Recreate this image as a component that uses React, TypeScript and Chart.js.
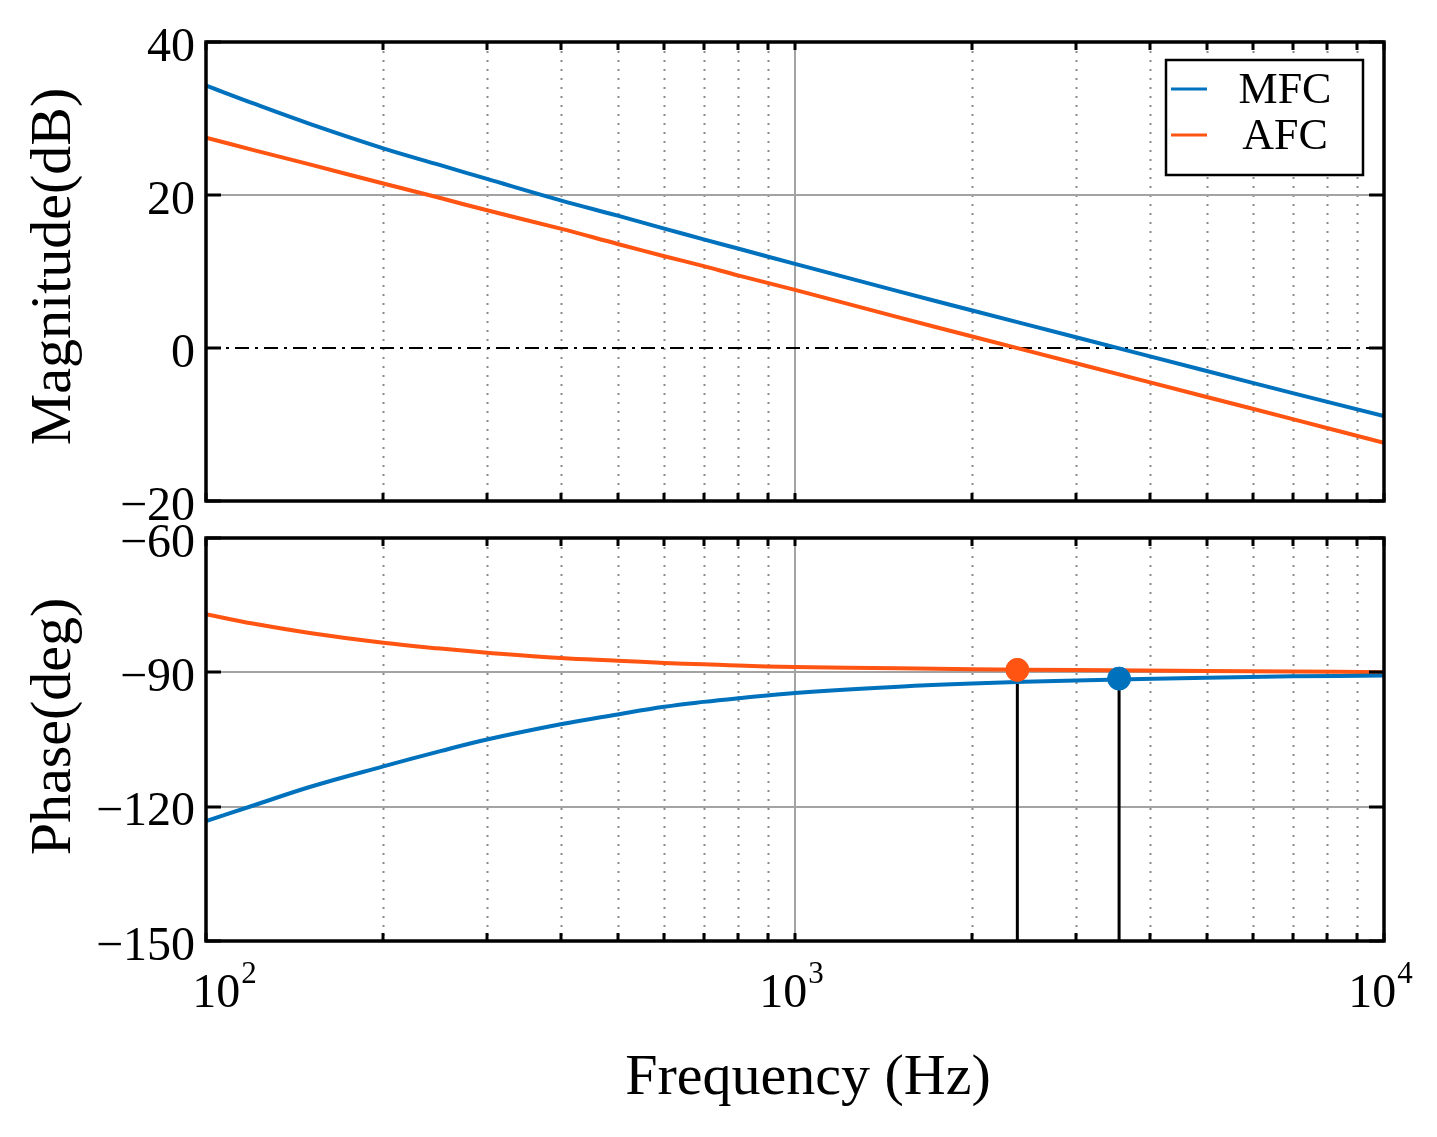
import { useEffect, useRef } from "react"
import { Chart, registerables } from "chart.js"

Chart.register(...registerables)

// frequency grid the curves were read at (Hz)
const freqHz = [100, 120, 150, 200, 250, 300, 400, 500, 600, 700, 800, 1000, 1500, 2000, 3000, 5000, 7000, 10000]
const mfcMagDb = [34.3, 32.0, 29.3, 26.1, 23.9, 22.1, 19.3, 17.3, 15.6, 14.2, 13.0, 11.0, 7.4, 4.9, 1.4, -3.0, -5.9, -8.9]
const afcMagDb = [27.5, 25.9, 24.0, 21.5, 19.6, 18.0, 15.6, 13.6, 12.0, 10.7, 9.5, 7.6, 4.0, 1.5, -2.0, -6.4, -9.3, -12.4]
const mfcPhaseDeg = [-123.2, -119.8, -115.6, -111.0, -107.6, -105.0, -101.6, -99.4, -97.7, -96.6, -95.8, -94.6, -93.2, -92.5, -91.8, -91.2, -90.9, -90.7]
const afcPhaseDeg = [-77.0, -79.1, -81.2, -83.4, -84.7, -85.6, -86.8, -87.4, -87.9, -88.2, -88.5, -88.8, -89.1, -89.3, -89.5, -89.7, -89.8, -90.0]

// crossover frequencies and the phase there: [MFC, AFC]
const crossFreqHz = [3550, 2385]
const crossPhaseDeg = [-91.4, -89.45]

const seriesNames = ["MFC", "AFC"]
const seriesColors = ["#0072BD", "#FF5412"]

const magTicks = [-20, 0, 20, 40]
const phaseTicks = [-150, -120, -90, -60]
const decadeTicks = [100, 1000, 10000]
const decadeExponents = ["2", "3", "4"]
const minorFreqs = [200, 300, 400, 500, 600, 700, 800, 900, 2000, 3000, 4000, 5000, 6000, 7000, 8000, 9000]

const FONT = "'Liberation Serif', 'Times New Roman', serif"
const W = 1437

const minus = (v: number) => String(v).replace("-", "\u2212")

// grid, zero line, frame, inward ticks, legend and axis texts
const framePlugin = {
  id: "bodeFrame",
  beforeDatasetsDraw(chart: any, _args: any, opts: any) {
    const { ctx, chartArea: a, scales } = chart
    const x = scales.x
    const y = scales.y
    ctx.save()
    ctx.beginPath()
    ctx.rect(a.left, a.top, a.right - a.left, a.bottom - a.top)
    ctx.clip()
    ctx.lineWidth = 2
    ctx.strokeStyle = "#8a8a8a"
    ctx.setLineDash([2, 7])
    minorFreqs.forEach((f) => {
      const px = Math.round(x.getPixelForValue(f)) + 0.5
      ctx.beginPath()
      ctx.moveTo(px, a.top)
      ctx.lineTo(px, a.bottom)
      ctx.stroke()
    })
    ctx.setLineDash([])
    ctx.strokeStyle = "#a3a3a3"
    decadeTicks.forEach((f) => {
      const px = Math.round(x.getPixelForValue(f))
      ctx.beginPath()
      ctx.moveTo(px, a.top)
      ctx.lineTo(px, a.bottom)
      ctx.stroke()
    })
    ;(opts.yTicks as number[]).forEach((v) => {
      if (opts.zeroLine && v === 0) return
      const py = Math.round(y.getPixelForValue(v))
      ctx.beginPath()
      ctx.moveTo(a.left, py)
      ctx.lineTo(a.right, py)
      ctx.stroke()
    })
    if (opts.zeroLine) {
      const py = Math.round(y.getPixelForValue(0))
      ctx.strokeStyle = "#000"
      ctx.setLineDash([14, 6, 3, 6])
      ctx.beginPath()
      ctx.moveTo(a.left, py)
      ctx.lineTo(a.right, py)
      ctx.stroke()
      ctx.setLineDash([])
    }
    ctx.restore()
  },
  afterDraw(chart: any, _args: any, opts: any) {
    const { ctx, chartArea: a, scales } = chart
    const x = scales.x
    const y = scales.y
    ctx.save()
    ctx.strokeStyle = "#000"
    ctx.lineWidth = 3
    // inward ticks
    ;[...minorFreqs, ...decadeTicks].forEach((f) => {
      const px = Math.round(x.getPixelForValue(f))
      ctx.beginPath()
      ctx.moveTo(px, a.top)
      ctx.lineTo(px, a.top + 8)
      ctx.moveTo(px, a.bottom)
      ctx.lineTo(px, a.bottom - 8)
      ctx.stroke()
    })
    ;(opts.yTicks as number[]).forEach((v) => {
      const py = Math.round(y.getPixelForValue(v))
      ctx.beginPath()
      ctx.moveTo(a.left, py)
      ctx.lineTo(a.left + 15, py)
      ctx.moveTo(a.right, py)
      ctx.lineTo(a.right - 15, py)
      ctx.stroke()
    })
    ctx.lineWidth = 3.5
    ctx.strokeRect(a.left, a.top, a.right - a.left, a.bottom - a.top)

    // rotated y title
    ctx.fillStyle = "#000"
    ctx.font = `58px ${FONT}`
    ctx.textAlign = "center"
    ctx.textBaseline = "middle"
    ctx.save()
    ctx.translate(55, (a.top + a.bottom) / 2 + opts.titleShift)
    ctx.rotate(-Math.PI / 2)
    ctx.fillText(opts.yTitle, 0, 0)
    ctx.restore()

    if (opts.legend) {
      const bw = 197
      const bh = 115
      const bx = a.right - 21 - bw
      const by = a.top + 18
      ctx.fillStyle = "#fff"
      ctx.fillRect(bx, by, bw, bh)
      ctx.lineWidth = 2.5
      ctx.strokeRect(bx, by, bw, bh)
      ctx.font = `44px ${FONT}`
      ctx.textAlign = "center"
      ctx.textBaseline = "middle"
      seriesNames.forEach((name, i) => {
        const ly = by + 29 + i * 46
        ctx.strokeStyle = seriesColors[i]
        ctx.lineWidth = 3
        ctx.beginPath()
        ctx.moveTo(bx + 5, ly)
        ctx.lineTo(bx + 41, ly)
        ctx.stroke()
        ctx.fillStyle = "#000"
        ctx.fillText(name, bx + 119, ly + 2)
      })
    }

    if (opts.xLabels) {
      ctx.fillStyle = "#000"
      ctx.textBaseline = "alphabetic"
      ctx.textAlign = "left"
      decadeTicks.forEach((f, i) => {
        const px = x.getPixelForValue(f)
        ctx.font = `48px ${FONT}`
        const baseW = ctx.measureText("10").width
        ctx.font = `31px ${FONT}`
        const expW = ctx.measureText(decadeExponents[i]).width
        const shift = i === 0 ? 18 : -4
        const x0 = px - (baseW + expW) / 2 + shift
        ctx.font = `48px ${FONT}`
        ctx.fillText("10", x0, a.bottom + 66)
        ctx.font = `31px ${FONT}`
        ctx.fillText(decadeExponents[i], x0 + baseW + 1, a.bottom + 42)
      })
      ctx.font = `58px ${FONT}`
      ctx.textAlign = "center"
      ctx.fillText("Frequency (Hz)", (a.left + a.right) / 2 + 13, a.bottom + 153)
    }
    ctx.restore()
  },
}

const pts = (ys: number[]) => freqHz.map((f, i) => ({ x: f, y: ys[i] }))

const curve = (label: string, data: any[], color: string) => ({
  label,
  data,
  borderColor: color,
  backgroundColor: color,
  borderWidth: 4,
  pointRadius: 0,
  tension: 0.4,
  order: 1,
})

const xScale = (height: number) => ({
  type: "logarithmic" as const,
  min: 100,
  max: 10000,
  afterBuildTicks: (scale: any) => {
    scale.ticks = decadeTicks.map((v) => ({ value: v }))
  },
  afterFit: (scale: any) => {
    scale.height = height
    scale.paddingLeft = 0
    scale.paddingRight = 0
  },
  grid: { display: false, drawTicks: false },
  border: { display: false },
  ticks: { display: false },
})

const yScale = (min: number, max: number, ticks: number[]) => ({
  type: "linear" as const,
  min,
  max,
  afterBuildTicks: (scale: any) => {
    scale.ticks = ticks.map((v) => ({ value: v }))
  },
  afterFit: (scale: any) => {
    scale.width = 206
    scale.paddingTop = 0
    scale.paddingBottom = 0
  },
  grid: { display: false, drawTicks: false },
  border: { display: false },
  ticks: {
    padding: 11,
    labelOffset: 6,
    color: "#000",
    font: { family: FONT, size: 48 },
    callback: (v: any) => minus(Number(v)),
  },
})

function MagnitudePlot() {
  const ref = useRef<HTMLCanvasElement>(null)
  useEffect(() => {
    if (!ref.current) return
    const chart = new Chart(ref.current, {
      type: "line",
      data: {
        datasets: [
          curve(seriesNames[0], pts(mfcMagDb), seriesColors[0]),
          curve(seriesNames[1], pts(afcMagDb), seriesColors[1]),
        ],
      },
      options: {
        responsive: false,
        animation: false,
        devicePixelRatio: 1,
        layout: { padding: { top: 42, right: 53, left: 0, bottom: 0 } },
        scales: {
          x: xScale(34),
          y: yScale(-20, 40, magTicks),
        },
        plugins: {
          legend: { display: false },
          tooltip: { enabled: false },
          bodeFrame: {
            yTicks: magTicks,
            zeroLine: true,
            legend: true,
            xLabels: false,
            yTitle: "Magnitude(dB)",
            titleShift: -5,
          },
        } as any,
      },
      plugins: [framePlugin],
    })
    return () => chart.destroy()
  }, [])
  return (
    <canvas
      ref={ref}
      width={W}
      height={535}
      style={{ position: "absolute", left: 0, top: 0, width: W, height: 535 }}
    />
  )
}

function PhasePlot() {
  const ref = useRef<HTMLCanvasElement>(null)
  useEffect(() => {
    if (!ref.current) return
    const stems = crossFreqHz.map((f, i) => ({
      label: seriesNames[i] + " crossover",
      data: [
        { x: f, y: crossPhaseDeg[i] },
        { x: f, y: -150 },
      ],
      borderColor: "#000",
      borderWidth: 3,
      pointRadius: 0,
      order: 2,
    }))
    const dots = crossFreqHz.map((f, i) => ({
      label: seriesNames[i] + " point",
      data: [{ x: f, y: crossPhaseDeg[i] }],
      borderColor: seriesColors[i],
      backgroundColor: seriesColors[i],
      pointRadius: 11.5,
      showLine: false,
      order: 0,
    }))
    const chart = new Chart(ref.current, {
      type: "line",
      data: {
        datasets: [
          ...stems,
          curve(seriesNames[0], pts(mfcPhaseDeg), seriesColors[0]),
          curve(seriesNames[1], pts(afcPhaseDeg), seriesColors[1]),
          ...dots,
        ] as any,
      },
      options: {
        responsive: false,
        animation: false,
        devicePixelRatio: 1,
        layout: { padding: { top: 23, right: 53, left: 0, bottom: 0 } },
        scales: {
          x: xScale(196),
          y: yScale(-150, -60, phaseTicks),
        },
        plugins: {
          legend: { display: false },
          tooltip: { enabled: false },
          bodeFrame: {
            yTicks: phaseTicks,
            zeroLine: false,
            legend: false,
            xLabels: true,
            yTitle: "Phase(deg)",
            titleShift: -13,
          },
        } as any,
      },
      plugins: [framePlugin],
    })
    return () => chart.destroy()
  }, [])
  return (
    <canvas
      ref={ref}
      width={W}
      height={622}
      style={{ position: "absolute", left: 0, top: 515, width: W, height: 622 }}
    />
  )
}

export default function App() {
  return (
    <div style={{ position: "absolute", left: 0, top: 0, width: W, height: 1137, background: "#fff" }}>
      <MagnitudePlot />
      <PhasePlot />
    </div>
  )
}
